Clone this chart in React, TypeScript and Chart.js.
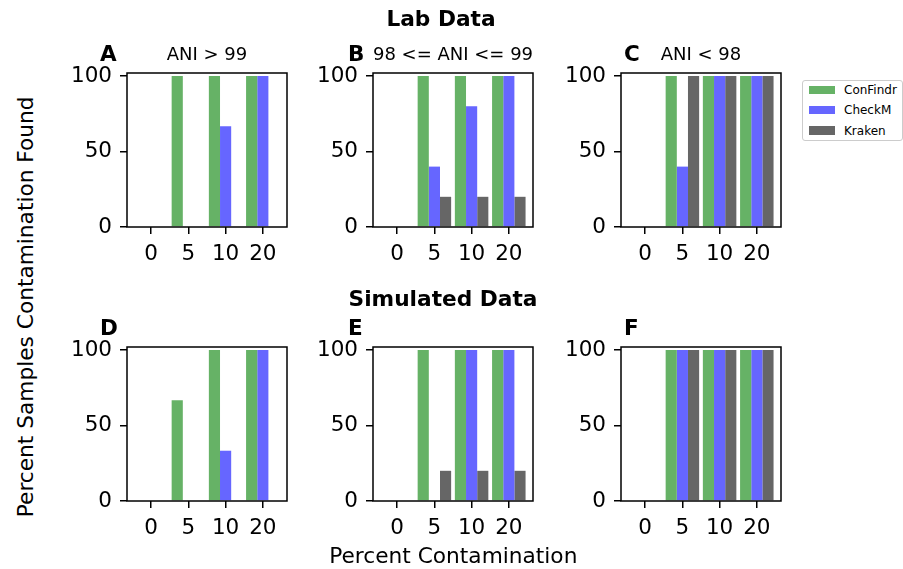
import React, { useEffect, useRef } from "react";
import { Chart, registerables } from "chart.js";

Chart.register(...registerables);

// ---------- data ----------
const xLabels = ["0", "5", "10", "20"];
const yTickValues = [0, 50, 100];
const seriesNames = ["ConFindr", "CheckM", "Kraken"];

// Lab data, ANI > 99
const labHighConFindr = [0, 100, 100, 100];
const labHighCheckM = [0, 0, 66.7, 100];
const labHighKraken = [0, 0, 0, 0];
// Lab data, 98 <= ANI <= 99
const labMidConFindr = [0, 100, 100, 100];
const labMidCheckM = [0, 40, 80, 100];
const labMidKraken = [0, 20, 20, 20];
// Lab data, ANI < 98
const labLowConFindr = [0, 100, 100, 100];
const labLowCheckM = [0, 40, 100, 100];
const labLowKraken = [0, 100, 100, 100];
// Simulated data, ANI > 99
const simHighConFindr = [0, 66.7, 100, 100];
const simHighCheckM = [0, 0, 33.3, 100];
const simHighKraken = [0, 0, 0, 0];
// Simulated data, 98 <= ANI <= 99
const simMidConFindr = [0, 100, 100, 100];
const simMidCheckM = [0, 0, 100, 100];
const simMidKraken = [0, 20, 20, 20];
// Simulated data, ANI < 98
const simLowConFindr = [0, 100, 100, 100];
const simLowCheckM = [0, 100, 100, 100];
const simLowKraken = [0, 100, 100, 100];

const panelLetters = ["A", "B", "C", "D", "E", "F"];
const panelTitles = ["ANI > 99", "98 <= ANI <= 99", "ANI < 98", "", "", ""];
const panelSeries = [
  [labHighConFindr, labHighCheckM, labHighKraken],
  [labMidConFindr, labMidCheckM, labMidKraken],
  [labLowConFindr, labLowCheckM, labLowKraken],
  [simHighConFindr, simHighCheckM, simHighKraken],
  [simMidConFindr, simMidCheckM, simMidKraken],
  [simLowConFindr, simLowCheckM, simLowKraken],
];

// ---------- styles / layout ----------
const seriesColors = ["#66b266", "#6666ff", "#666666"];
const FONT = "'DejaVu Sans', sans-serif";
const colLefts = [127, 373, 621];
const rowTops = [73, 347];
const letterOffsets = [-27, -25, 3];
const PLOT_W = 160;
const PLOT_H = 154;
const PAD_L = 70;
const PAD_T = 45;
const PAD_B = 45;
const PAD_R = 10;

const framePlugin = {
  id: "panelFrame",
  afterDraw(chart: any, _args: any, opts: any) {
    const { ctx, chartArea: a } = chart;
    ctx.save();
    ctx.strokeStyle = "#000";
    ctx.lineWidth = 1.5;
    ctx.strokeRect(a.left, a.top, a.right - a.left, a.bottom - a.top);
    ctx.fillStyle = "#000";
    ctx.textBaseline = "alphabetic";
    ctx.textAlign = "left";
    ctx.font = `bold 21.5px ${FONT}`;
    ctx.fillText(opts.letter, a.left + opts.letterDx, a.top - 12.5);
    if (opts.title) {
      ctx.font = `18px ${FONT}`;
      ctx.textAlign = "center";
      ctx.fillText(opts.title, (a.left + a.right) / 2, a.top - 13);
    }
    ctx.restore();
  },
};

function Panel({ index }: { index: number }) {
  const ref = useRef<HTMLCanvasElement | null>(null);
  const col = index % 3;
  const row = Math.floor(index / 3);
  const left = colLefts[col] - PAD_L;
  const top = rowTops[row] - PAD_T;
  const width = PAD_L + PLOT_W + PAD_R;
  const height = PAD_T + PLOT_H + PAD_B;

  useEffect(() => {
    if (!ref.current) return;
    const series = panelSeries[index];
    const chart = new Chart(ref.current, {
      type: "bar",
      data: {
        datasets: series.map((vals, si) => ({
          label: seriesNames[si],
          data: vals.map((v, i) => ({ x: i, y: v })),
          backgroundColor: seriesColors[si],
          borderWidth: 0,
          categoryPercentage: 0.9,
          barPercentage: 1.0,
        })),
      },
      options: {
        responsive: false,
        animation: false,
        devicePixelRatio: 1,
        layout: { padding: { left: 0, top: PAD_T, right: PAD_R, bottom: 0 } },
        plugins: {
          legend: { display: false },
          tooltip: { enabled: false },
          panelFrame: {
            letter: panelLetters[index],
            title: panelTitles[index],
            letterDx: letterOffsets[col],
          },
        } as any,
        scales: {
          x: {
            type: "linear",
            min: -0.65,
            max: 3.65,
            offset: false,
            border: { display: false },
            grid: {
              display: true,
              drawOnChartArea: false,
              drawTicks: true,
              tickLength: 7,
              color: "#000",
              lineWidth: 1.5,
              offset: false,
            },
            ticks: {
              color: "#000",
              font: { family: FONT, size: 21.5 },
              padding: 8,
              maxRotation: 0,
              callback: (v: any) => xLabels[v as number],
            },
            afterBuildTicks: (scale: any) => {
              scale.ticks = xLabels.map((_, i) => ({ value: i }));
            },
            afterFit: (scale: any) => {
              scale.height = PAD_B;
            },
          } as any,
          y: {
            type: "linear",
            min: 0,
            max: 102,
            border: { display: false },
            grid: {
              display: true,
              drawOnChartArea: false,
              drawTicks: true,
              tickLength: 7,
              color: "#000",
              lineWidth: 1.5,
            },
            ticks: {
              color: "#000",
              font: { family: FONT, size: 21.5 },
              padding: 8,
            },
            afterBuildTicks: (scale: any) => {
              scale.ticks = yTickValues.map((v) => ({ value: v }));
            },
            afterFit: (scale: any) => {
              scale.width = PAD_L;
            },
          } as any,
        },
      },
      plugins: [framePlugin as any],
    });
    return () => chart.destroy();
  }, [index]);

  return (
    <canvas
      ref={ref}
      width={width}
      height={height}
      style={{ position: "absolute", left, top, width, height, display: "block" }}
    />
  );
}

export default function App() {
  const textBase: React.CSSProperties = {
    position: "absolute",
    fontFamily: FONT,
    color: "#000",
    whiteSpace: "nowrap",
    lineHeight: "21.7px",
    fontSize: "21.7px",
  };
  return (
    <div
      style={{
        position: "absolute",
        left: 0,
        top: 0,
        width: 903,
        height: 569,
        background: "#fff",
        overflow: "hidden",
      }}
    >
      {panelLetters.map((_, i) => (
        <Panel key={i} index={i} />
      ))}
      <div style={{ ...textBase, fontWeight: "bold", left: 241, width: 400, top: 8.3, textAlign: "center" }}>
        Lab Data
      </div>
      <div style={{ ...textBase, fontWeight: "bold", left: 243, width: 400, top: 288.3, textAlign: "center" }}>
        Simulated Data
      </div>
      <div style={{ ...textBase, left: 253.3, width: 400, top: 545, textAlign: "center" }}>
        Percent Contamination
      </div>
      <div
        style={{
          ...textBase,
          left: 25.7 - 250,
          top: 307 - 10.85,
          width: 500,
          textAlign: "center",
          transform: "rotate(-90deg)",
          transformOrigin: "50% 50%",
        }}
      >
        Percent Samples Contamination Found
      </div>
      <div
        style={{
          position: "absolute",
          left: 801.5,
          top: 80,
          width: 101,
          height: 61,
          border: "1px solid #cccccc",
          borderRadius: 3,
          boxSizing: "border-box",
          background: "#fff",
        }}
      >
        {seriesNames.map((name, i) => (
          <div key={name} style={{ position: "absolute", left: 6, top: 4 + i * 20.3, height: 10, width: 95 }}>
            <div
              style={{
                position: "absolute",
                left: 0,
                top: 0.5,
                width: 26,
                height: 8.5,
                background: seriesColors[i],
              }}
            />
            <div
              style={{
                position: "absolute",
                left: 35.5,
                top: -2,
                fontFamily: FONT,
                fontSize: "12px",
                lineHeight: "14px",
                whiteSpace: "nowrap",
                color: "#000",
              }}
            >
              {name}
            </div>
          </div>
        ))}
      </div>
    </div>
  );
}
